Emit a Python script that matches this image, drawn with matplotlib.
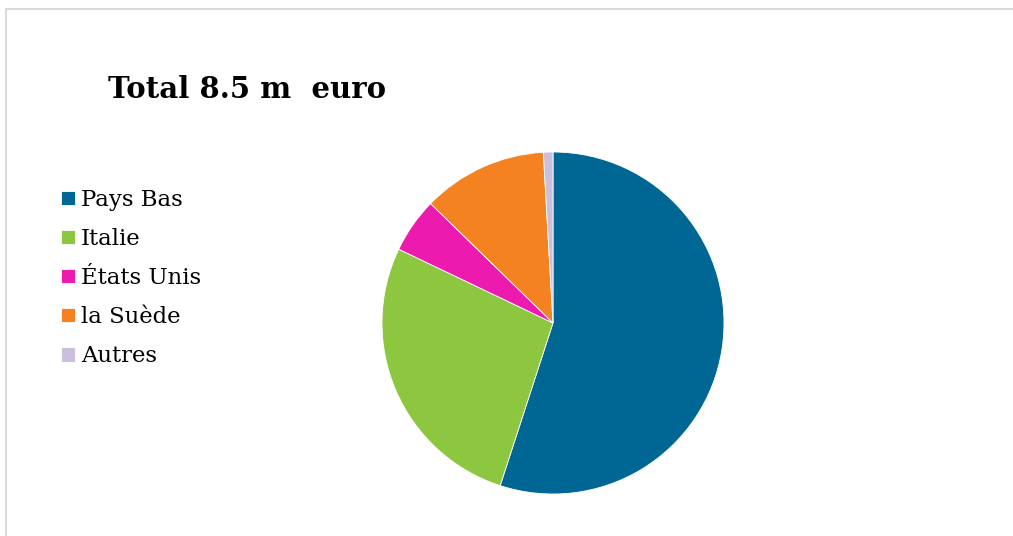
import matplotlib
matplotlib.use("Agg")
import matplotlib.pyplot as plt
from matplotlib.lines import Line2D

# Répartition du total par pays (en %)
pays = ["Pays Bas", "Italie", "États Unis", "la Suède", "Autres"]
parts = [55.0, 27.1, 5.2, 11.8, 0.9]
couleurs = ["#006795", "#8DC63F", "#EC1AAE", "#F58220", "#CBC0DB"]
titre = "Total 8.5 m  euro"

fig = plt.figure(figsize=(10.13, 5.36), dpi=100)
fig.patch.set_facecolor("white")

# cadre gris clair (haut et gauche)
fig.add_artist(Line2D([6 / 1013, 6 / 1013], [0, 1 - 9 / 536],
                      transform=fig.transFigure, color="#d9d9d9", lw=1.5))
fig.add_artist(Line2D([6 / 1013, 1], [1 - 9 / 536, 1 - 9 / 536],
                      transform=fig.transFigure, color="#d9d9d9", lw=1.5))

cx, cy, r = 553, 323, 171
ax = fig.add_axes([(cx - r) / 1013, (536 - cy - r) / 536,
                   2 * r / 1013, 2 * r / 536])
wedges, _ = ax.pie(parts, colors=couleurs, startangle=90, counterclock=False,
                   radius=1, wedgeprops=dict(edgecolor="white", linewidth=0.6))
ax.set_xlim(-1, 1)
ax.set_ylim(-1, 1)
ax.set_aspect("equal")
ax.axis("off")

fig.text(108 / 1013, 1 - 98 / 536, titre, fontsize=21, fontweight="bold",
         family="DejaVu Serif", ha="left", va="baseline")

fig.legend(wedges, pays, loc="upper left",
           bbox_to_anchor=(52 / 1013, 1 - 180 / 536),
           frameon=False, prop=dict(family="DejaVu Serif", size=16.4),
           handlelength=0.59, handleheight=0.59, handletextpad=0.28,
           labelspacing=0.75, borderaxespad=0)

fig.savefig("out.png", dpi=100, facecolor="white")
